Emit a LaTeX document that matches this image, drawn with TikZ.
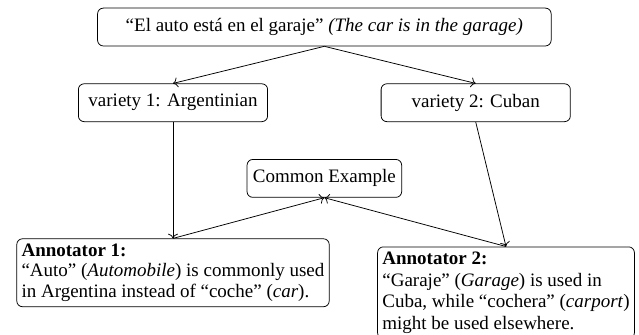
\documentclass[tikz,border=0pt]{standalone}
\usepackage{fontspec}
\setmainfont{Liberation Serif}
\usetikzlibrary{positioning, arrows.meta}
\tikzset{%
  roundbox/.style = {draw, rounded corners = 3pt, minimum height = 0.7cm,
    inner sep = 2.5pt},
  annot/.style    = {draw, rounded corners = 3pt, align = left,
    inner sep = 2.5pt, anchor = north,
    font = \fontsize{10}{11}\selectfont} % Annotator note
}

\begin{document}
\begin{tikzpicture}
\useasboundingbox (0,0) rectangle (11.82,-6.18);
\clip (0,0) rectangle (11.82,-6.18);
%sentence and variety blocks
\draw
	(6,-0.5) node [roundbox, minimum width = 8.39cm] (sent) {“El auto está en el garaje” \textit{(The car is in the garage)}}
	(3.2,-1.9) node [roundbox, minimum width = 3.5cm] (var1) {variety 1: Argentinian}
	(8.8,-1.9) node [roundbox, minimum width = 3.5cm] (var2) {variety 2: Cuban}
	(6,-3.3) node [roundbox, minimum width = 2.86cm] (common) {Common Example};
%annotator blocks
\draw
	(3.2,-4.41) node [annot] (ann1) {\textbf{Annotator 1:}\\
	“Auto” (\textit{Automobile}) is commonly used\\
	in Argentina instead of “coche” (\textit{car}).}
	(9.36,-4.56) node [annot, font = \fontsize{10}{11.5}\selectfont] (ann2) {\textbf{Annotator 2:}\\
	“Garaje” (\textit{Garage}) is used in\\
	Cuba, while “cochera” (\textit{carport})\\
	might be used elsewhere.};
%lines
\draw[->] (sent.south) -- (var1.north);
\draw[->] (sent.south) -- (var2.north);
\draw[->] (var1.south) -- (ann1.north);
\draw[->] (var2.south) -- (ann2.north);
\draw[->] (ann1.north) -- (common.south);
\draw[->] (ann2.north) -- (common.south);
\end{tikzpicture}
\end{document}
